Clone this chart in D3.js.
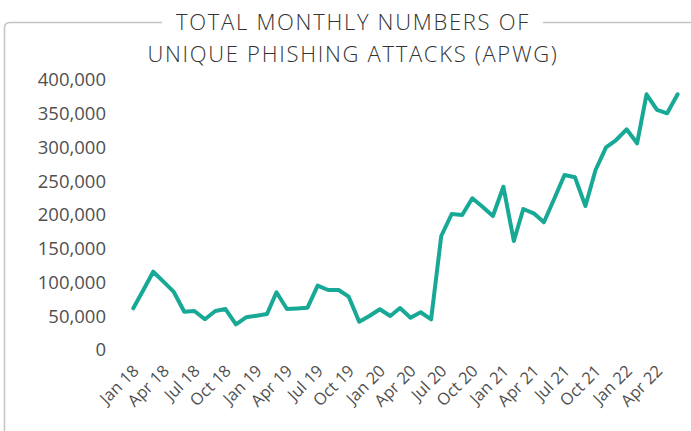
<!DOCTYPE html>
<html>
<head>
<meta charset="utf-8">
<script src="https://cdn.jsdelivr.net/npm/d3@7"></script>
<style>
  body { margin: 0; background: #fff; }
  svg { display: block; font-family: "Open Sans", Lato, sans-serif; }
</style>
</head>
<body>
<script>
// Chart data
var titleLines = ["TOTAL MONTHLY NUMBERS OF", "UNIQUE PHISHING ATTACKS (APWG)"];
var startMonth = new Date(2018, 0, 1);
var endMonth = new Date(2022, 5, 1);
var attacks = [
    61800, 90000, 116000, 101000, 86000, 56700, 57800, 45500, 57800, 60700, 38100, 48400,
    50800, 53300, 85500, 60700, 61600, 62700, 95300, 88900, 88900, 79000, 41900, 50400,
    60300, 50400, 62200, 47900, 55900, 45500, 168900, 201500, 200000, 224700, 211900, 198500,
    241900, 161500, 208900, 202500, 189200, 224400, 259300, 255900, 213300, 266700, 300300, 311100,
    327000, 306200, 378800, 355600, 350700, 378800
];
var tickLabels = ["Jan 18", "Apr 18", "Jul 18", "Oct 18", "Jan 19", "Apr 19", "Jul 19", "Oct 19",
    "Jan 20", "Apr 20", "Jul 20", "Oct 20", "Jan 21", "Apr 21", "Jul 21", "Oct 21", "Jan 22", "Apr 22"];
var yTicks = [0, 50000, 100000, 150000, 200000, 250000, 300000, 350000, 400000];

var width = 691, height = 431;

var svg = d3.select("body").append("svg")
    .attr("width", width)
    .attr("height", height);

var months = d3.timeMonth.range(startMonth, d3.timeMonth.offset(endMonth, 1));
var data = months.map(function (m, i) { return { date: m, value: attacks[i] }; });

var x = d3.scaleTime().domain([startMonth, endMonth]).range([133.3, 677.6]);
var y = d3.scaleLinear().domain([0, 400000]).range([350, 80]);

// frame with the title cut into the top edge
svg.append("path")
    .attr("d", "M162,22.5 H10 Q4.5,22.5 4.5,28 V431 M543,22.5 H691")
    .attr("fill", "none")
    .attr("stroke", "#c4c4c4")
    .attr("stroke-width", 1.5);

svg.append("text")
    .attr("x", 353)
    .attr("y", 29.5)
    .attr("text-anchor", "middle")
    .style("font-size", "22px")
    .style("font-weight", 300)
    .style("letter-spacing", "1.7px")
    .style("fill", "#333")
    .selectAll("tspan")
    .data(titleLines)
    .enter().append("tspan")
    .attr("x", 353)
    .attr("dy", function (d, i) { return i ? 32 : 0; })
    .text(function (d) { return d; });

// y axis: labels only
var yAxis = svg.append("g")
    .attr("transform", "translate(106,0)")
    .call(d3.axisLeft(y).tickValues(yTicks).tickSize(0).tickPadding(0).tickFormat(d3.format(",")));
yAxis.select(".domain").remove();
yAxis.selectAll("text")
    .style("font-family", "'Open Sans', Lato, sans-serif")
    .style("font-size", "18.5px")
    .style("font-weight", 400)
    .style("fill", "#505050");

// x axis: rotated quarter labels
var tickDates = tickLabels.map(function (d, i) { return d3.timeMonth.offset(startMonth, i * 3); });
var xAxis = svg.append("g")
    .attr("transform", "translate(0,350)")
    .call(d3.axisBottom(x).tickValues(tickDates).tickSize(0)
        .tickFormat(function (d, i) { return tickLabels[i]; }));
xAxis.select(".domain").remove();
xAxis.selectAll("text")
    .attr("x", 0).attr("y", 0).attr("dy", 0)
    .attr("transform", "translate(6,22) rotate(-45)")
    .style("text-anchor", "end")
    .style("font-family", "'Open Sans', Lato, sans-serif")
    .style("font-size", "16.5px")
    .style("font-weight", 400)
    .style("fill", "#505050");

// the line
var line = d3.line()
    .x(function (d) { return x(d.date); })
    .y(function (d) { return y(d.value); });

svg.append("path")
    .datum(data)
    .attr("d", line)
    .attr("fill", "none")
    .attr("stroke", "#18a996")
    .attr("stroke-width", 4)
    .attr("stroke-linejoin", "round")
    .attr("stroke-linecap", "round");
</script>
</body>
</html>
